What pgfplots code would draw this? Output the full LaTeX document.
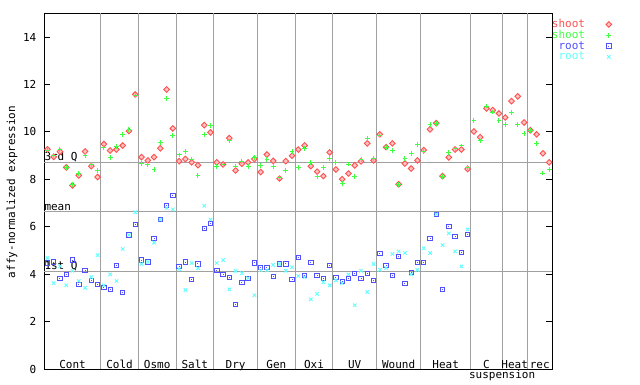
\documentclass[border=0pt]{standalone}
\usepackage{fontspec}
\setmainfont{DejaVu Sans Mono}
\usepackage{pgfplots}
\usepackage{pgfplotstable}
\pgfplotsset{compat=1.18}
\definecolor{cr}{HTML}{FF5050}
\definecolor{cg}{HTML}{40FF40}
\definecolor{cb}{HTML}{5050FF}
\definecolor{cc}{HTML}{60FFFF}
\definecolor{gridgray}{HTML}{A0A0A0}
\newcommand\gf{\fontsize{11}{13}\selectfont}
\pgfdeclareplotmark{sqdot}{%
  \pgfpathrectangle{\pgfqpoint{-\pgfplotmarksize}{-\pgfplotmarksize}}{\pgfqpoint{2\pgfplotmarksize}{2\pgfplotmarksize}}%
  \pgfusepathqstroke
  \pgfpathrectangle{\pgfqpoint{-0.5pt}{-0.5pt}}{\pgfqpoint{1pt}{1pt}}%
  \pgfusepathqfill}
\pgfplotstableread{
i sr sg rb rc
1 9.27 9.21 4.48 4.69
2 8.95 9.00 4.52 3.63
3 9.17 9.25 3.84 4.34
4 8.51 8.51 4.00 3.54
5 7.75 7.80 4.60 4.15
6 8.17 8.25 3.58 3.72
7 9.18 9.00 4.17 3.43
8 8.56 8.63 3.75 3.88
9 8.10 8.38 3.58 4.81
10 9.49 9.36 3.46 3.54
11 9.22 8.93 3.37 4.00
12 9.26 9.39 4.38 3.72
13 9.43 9.90 3.25 5.07
14 10.04 10.11 5.66 5.66
15 11.58 11.55 6.11 6.62
16 8.94 8.67 4.60 4.44
17 8.80 8.64 4.52 4.52
18 8.94 8.42 5.52 5.34
19 9.31 9.56 6.31 6.31
20 11.79 11.41 6.91 6.79
21 10.15 9.86 7.33 6.74
22 8.77 9.03 4.34 4.22
23 8.86 9.18 4.52 3.34
24 8.72 8.84 3.79 4.48
25 8.60 8.18 4.44 4.26
26 10.29 9.90 5.94 6.89
27 9.98 10.28 6.15 6.31
28 8.72 8.53 4.17 4.48
29 8.63 8.62 4.00 4.60
30 9.74 9.62 3.88 3.37
31 8.38 8.53 2.74 4.15
32 8.66 8.76 3.67 4.05
33 8.72 8.53 3.84 3.84
34 8.86 8.93 4.48 3.12
35 8.31 8.60 4.30 4.17
36 9.05 8.84 4.30 4.17
37 8.78 8.53 3.92 4.40
38 8.04 8.08 4.44 4.44
39 8.77 8.37 4.44 4.15
40 9.00 9.19 3.79 4.30
41 9.26 8.50 4.72 3.93
42 9.43 9.32 3.96 3.88
43 8.56 8.73 4.51 2.95
44 8.33 8.13 3.96 3.18
45 8.14 8.51 3.84 3.67
46 9.14 8.87 4.38 3.54
47 8.42 8.70 3.88 3.75
48 8.01 7.83 3.71 3.63
49 8.25 8.65 3.84 4.00
50 8.59 8.13 4.05 2.70
51 8.76 8.84 3.84 4.15
52 9.52 9.74 4.05 3.26
53 8.80 8.87 3.75 4.44
54 9.90 9.87 4.89 4.19
55 9.36 9.36 4.38 4.26
56 9.52 9.22 3.96 4.86
57 7.80 7.80 4.76 4.97
58 8.67 8.89 3.63 4.90
59 8.46 9.08 4.09 4.00
60 8.80 9.48 4.51 4.19
61 9.24 9.19 4.51 5.10
62 10.11 10.33 5.52 4.90
63 10.37 10.37 6.53 6.53
64 8.14 8.14 3.37 5.23
65 8.93 9.15 6.03 5.73
66 9.26 9.29 5.61 4.97
67 9.26 9.41 4.93 4.34
68 8.44 8.49 5.69 5.90
69 10.02 10.50 nan nan
70 9.78 9.62 nan nan
71 10.99 11.09 nan nan
72 10.92 10.84 nan nan
73 10.78 10.50 nan nan
74 10.61 10.33 nan nan
75 11.30 10.82 nan nan
76 11.50 10.33 nan nan
77 10.40 9.95 nan nan
78 10.07 10.07 nan nan
79 9.90 9.52 nan nan
80 9.10 8.27 nan nan
81 8.72 8.42 nan nan
}\data
\begin{document}
\begin{tikzpicture}
\path[use as bounding box] (0pt,0pt) rectangle (640pt,384pt);
\node[rotate=90,font=\gf] at (12pt,192pt) {affy-normalized expression};
\begin{axis}[
  at={(44.3pt,14.7pt)}, anchor=south west,
  scale only axis, width=508pt, height=356pt,
  xmin=0.5, xmax=81.5, ymin=0, ymax=15,
  clip=false,
  axis line style={black, line width=1pt},
  xtick=\empty,
  ytick={0,2,4,6,8,10,12,14},
  ytick pos=both,
  tick align=inside,
  major tick length=6pt,
  every tick/.style={black, line width=1pt},
  yticklabel style={font=\gf, xshift=-4.5pt},
  /pgf/number format/assume math mode=true,
  extra x ticks={9.5,15.5,21.5,27.5,34.5,40.5,46.5,53.5,60.5,68.5,73.5,77.5},
  extra x tick labels={},
  extra x tick style={grid=major, major tick length=0pt},
  extra y ticks={4.10,6.63,8.70},
  extra y tick labels={},
  extra y tick style={grid=major, major tick length=0pt},
  major grid style={gridgray, line width=1pt},
  legend plot pos=right,
  legend cell align=right,
  legend style={at={(rel axis cs:1,1)}, anchor=north west, xshift=-0.6pt, yshift=-5.5pt,
    draw=none, fill=none, inner sep=0pt, font=\gf,
    nodes={inner sep=0pt, text height=8.5pt, text depth=2.3pt},
    row sep=0pt, column sep=21pt},
]
\addplot[only marks, mark=square*, mark size=2.0pt, cr, mark options={rotate=45, fill=cr!35, line width=0.9pt}] table[x=i,y=sr] {\data};
\addlegendentry[text=cr]{shoot}
\addplot[only marks, mark=+, mark size=2.4pt, cg, mark options={line width=1pt}] table[x=i,y=sg] {\data};
\addlegendentry[text=cg]{shoot}
\addplot[only marks, mark=sqdot, mark size=2.2pt, cb, mark options={line width=0.9pt}] table[x=i,y=rb] {\data};
\addlegendentry[text=cb]{root}
\addplot[only marks, mark=x, mark size=2.4pt, cc, mark options={line width=0.9pt}] table[x=i,y=rc] {\data};
\addlegendentry[text=cc]{root}
\node[font=\gf, anchor=south west, inner sep=0pt, yshift=1pt] at (axis cs:0.5,8.70) {3rd Q};
\node[font=\gf, anchor=south west, inner sep=0pt, yshift=1pt] at (axis cs:0.5,6.63) {mean};
\node[font=\gf, anchor=south west, inner sep=0pt, yshift=1pt] at (axis cs:0.5,4.10) {1st Q};
\node[font=\gf, anchor=base, inner sep=0pt, yshift=1pt] at (axis cs:5,0) {Cont};
\node[font=\gf, anchor=base, inner sep=0pt, yshift=1pt] at (axis cs:12.5,0) {Cold};
\node[font=\gf, anchor=base, inner sep=0pt, yshift=1pt] at (axis cs:18.5,0) {Osmo};
\node[font=\gf, anchor=base, inner sep=0pt, yshift=1pt] at (axis cs:24.5,0) {Salt};
\node[font=\gf, anchor=base, inner sep=0pt, yshift=1pt] at (axis cs:31,0) {Dry};
\node[font=\gf, anchor=base, inner sep=0pt, yshift=1pt] at (axis cs:37.5,0) {Gen};
\node[font=\gf, anchor=base, inner sep=0pt, yshift=1pt] at (axis cs:43.5,0) {Oxi};
\node[font=\gf, anchor=base, inner sep=0pt, yshift=1pt] at (axis cs:50,0) {UV};
\node[font=\gf, anchor=base, inner sep=0pt, yshift=1pt] at (axis cs:57,0) {Wound};
\node[font=\gf, anchor=base, inner sep=0pt, yshift=1pt] at (axis cs:64.5,0) {Heat};
\node[font=\gf, anchor=base, inner sep=0pt, yshift=1pt] at (axis cs:71,0) {C};
\node[font=\gf, anchor=base, inner sep=0pt, yshift=1pt] at (axis cs:75.5,0) {Heat};
\node[font=\gf, anchor=base, inner sep=0pt, yshift=1pt] at (axis cs:79.5,0) {rec};
\node[font=\gf, anchor=base, inner sep=0pt, yshift=-9.2pt] at (axis cs:73.5,0) {suspension};
\end{axis}
\end{tikzpicture}
\end{document}
